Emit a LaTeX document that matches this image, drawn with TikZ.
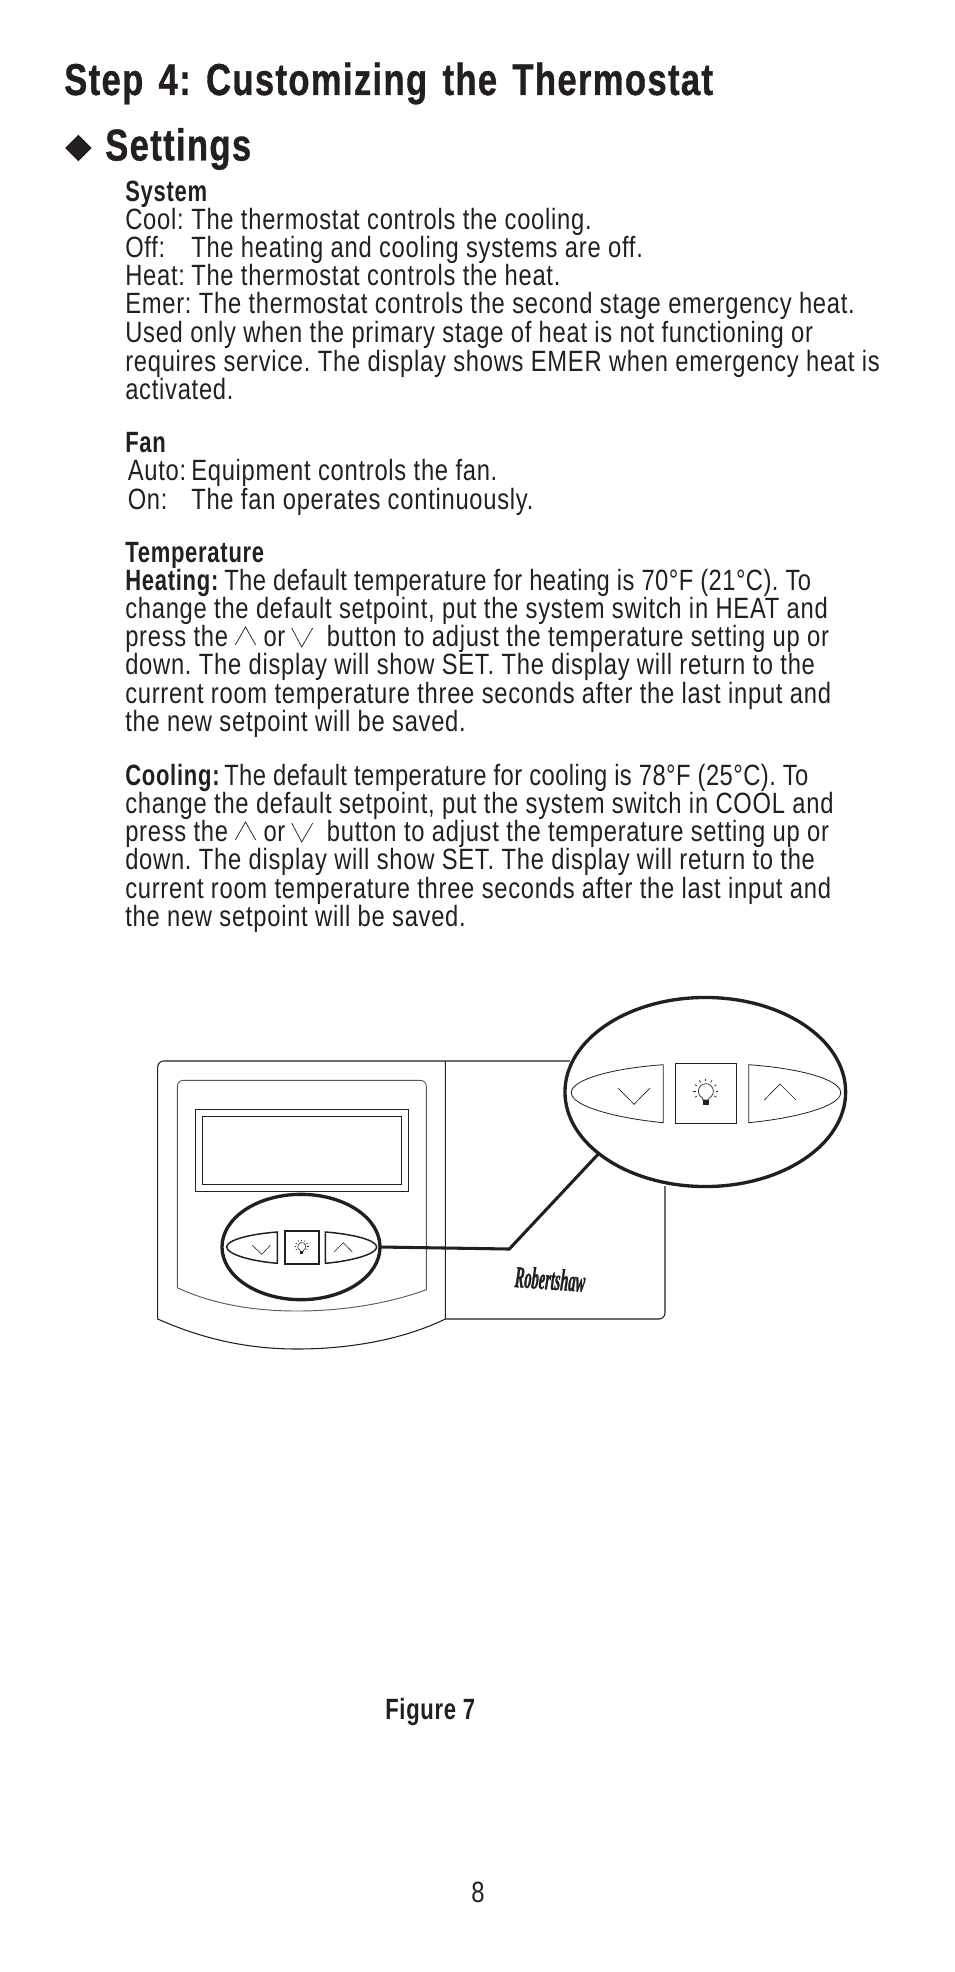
\documentclass[tikz,border=0pt]{standalone}
\usepackage{fontspec}
\setmainfont{Liberation Sans}[FakeStretch=0.81,LetterSpace=2.5,BoldFeatures={FakeStretch=0.75}]
\newfontfamily\headfont{Liberation Sans}[FakeStretch=0.775,LetterSpace=3,WordSpace=1.4,FakeBold=0.8]
\newfontfamily\logofont{Liberation Serif}[FakeStretch=0.47,FakeBold=0.8]
\usetikzlibrary{shapes.geometric}
\definecolor{inkdark}{HTML}{231F20}
\definecolor{inkgrey}{HTML}{58595B}
\tikzset{
    bulb/.pic={
        \draw (-3,8) -- (-3,6) arc[start angle=115, end angle=425, radius=7.5] -- (3,8) -- cycle;
        \fill (-3,8) rectangle (3,13);
        \foreach \a in {-210,-180,...,30}
            \draw ([shift={(0,-1)}]\a:10) -- ([shift={(0,-1)}]\a:12.5);
    }
}
\begin{document}
\begin{tikzpicture}[x=0.75pt, y=-0.75pt, color=inkdark, text=inkdark]
\useasboundingbox (0,0) rectangle (954,1972);
\frenchspacing

\begin{scope}[every node/.style={anchor=base west, inner sep=0pt, font=\headfont\bfseries\fontsize{33.5}{40}\selectfont}]
    \node (title) at (64,95) {Step 4: Customizing the Thermostat};
    \node (settings) at (105,160.5) {Settings};
\end{scope}
\node[diamond, fill=inkdark, minimum size=20pt, inner sep=0pt] (bullet) at (78.3,148) {};

\begin{scope}[every node/.style={anchor=base west, inner sep=0pt, font=\fontsize{22}{28}\selectfont}]
    \node (system) at (125,201.5) {\textbf{System}};
    \node (cool) at (125,230) {Cool:};
    \node (cooltext) at (191,230) {The thermostat controls the cooling.};
    \node (off) at (125,258) {Off:};
    \node (offtext) at (191,258) {The heating and cooling systems are off.};
    \node (heat) at (125,286) {Heat:};
    \node (heattext) at (191,286) {The thermostat controls the heat.};
    \node (emer0) at (125,314) {Emer: The thermostat controls the second stage emergency heat.};
    \node (emer1) at (125,342) {Used only when the primary stage of heat is not functioning or};
    \node (emer2) at (125,371) {requires service. The display shows EMER when emergency heat is};
    \node (emer3) at (125,399) {activated.};

    \node (fan) at (125,452) {\textbf{Fan}};
    \node (auto) at (127.5,480) {Auto:};
    \node (autotext) at (191,480) {Equipment controls the fan.};
    \node (on) at (127.5,509) {On:};
    \node (ontext) at (191,509) {The fan operates continuously.};

    \node (temp) at (125,562) {\textbf{Temperature}};
    \node (heat0a) at (125,590) {\textbf{Heating:}};
    \node (heat0b) at (224,590) {\addfontfeature{LetterSpace=1.5}The default temperature for heating is 70°F (21°C). To};
    \node (heat1) at (125,618) {change the default setpoint, put the system switch in HEAT and};
    \node (heat2a) at (125,646) {press the};
    \node (heat2b) at (263.3,646) {or};
    \node (heat2c) at (326.7,646) {button to adjust the temperature setting up or};
    \node (heat3) at (125,674) {down. The display will show SET. The display will return to the};
    \node (heat4) at (125,703) {current room temperature three seconds after the last input and};
    \node (heat5) at (125,731) {the new setpoint will be saved.};

    \node (cold0a) at (125,785) {\textbf{Cooling:}};
    \node (cold0b) at (224,785) {\addfontfeature{LetterSpace=1.5}The default temperature for cooling is 78°F (25°C). To};
    \node (cold1) at (125,813) {change the default setpoint, put the system switch in COOL and};
    \node (cold2a) at (125,841) {press the};
    \node (cold2b) at (263.3,841) {or};
    \node (cold2c) at (326.7,841) {button to adjust the temperature setting up or};
    \node (cold3) at (125,869) {down. The display will show SET. The display will return to the};
    \node (cold4) at (125,898) {current room temperature three seconds after the last input and};
    \node (cold5) at (125,926) {the new setpoint will be saved.};

    \node (figure) at (385,1719) {\textbf{Figure 7}};
    \node (page) at (471,1902) {8};
\end{scope}

\begin{scope}[line width=0.55pt]
    \draw (235.3,645) -- (245.5,627) -- (255.7,645);
    \draw (291.7,628) -- (301.7,647) -- (312.7,628);
    \draw (235.3,840) -- (245.5,822) -- (255.7,840);
    \draw (291.7,823) -- (301.7,842) -- (312.7,823);
\end{scope}

\begin{scope}[line width=0.8pt]
    \draw (570,1061) [rounded corners=4.5pt] -- (157.7,1061) [sharp corners] -- (157.7,1319)
        .. controls (205,1340) and (250,1349) .. (297,1349)
        .. controls (345,1349) and (400,1341) .. (445.3,1319);
    \draw (445.3,1061) -- (445.3,1319) -- (600,1319) [rounded corners=4.5pt] -- (665,1319) [sharp corners] -- (665,1186);
    \draw (195.3,1109.3) rectangle (408.3,1191.3);
    \draw (202.3,1116.3) rectangle (401.7,1184.3);
\end{scope}
\draw[line width=0.7pt, inkgrey] (177.3,1287.7) [rounded corners=4.5pt] -- (177.3,1080.3) -- (426.3,1080.3) [sharp corners] -- (426.3,1289.7)
    .. controls (390,1303) and (345,1311) .. (297,1311)
    .. controls (250,1311) and (210,1303) .. (177.3,1287.7);

\node[ellipse, draw, fill=white, line width=2.5pt, inner sep=0pt, outer sep=0pt, minimum width=118.5pt, minimum height=79pt] (lenssmall) at (301,1247) {};
\node[ellipse, draw, fill=white, line width=2.5pt, inner sep=0pt, outer sep=0pt, minimum width=210.5pt, minimum height=141.8pt] (lensbig) at (705.3,1092) {};
\coordinate (bend) at (509.3,1249);
\draw[line width=2.3pt, line join=miter] (lenssmall.east) -- (bend) -- (lensbig.210);

\begin{scope}[line width=1.1pt]
    \draw (277.3,1232) .. controls (250,1234) and (226.7,1240) .. (226.7,1247) .. controls (226.7,1254) and (250,1261) .. (277.3,1263.3) -- cycle;
    \draw[line width=1.6pt] (284.7,1231) rectangle (318.7,1264);
    \draw (325.3,1232) .. controls (352,1234) and (376.7,1240) .. (376.7,1247) .. controls (376.7,1254) and (352,1261) .. (325.3,1263.3) -- cycle;
\end{scope}
\draw[line width=0.45pt] (252.3,1245.3) -- (261.7,1254.3) -- (270.3,1245.3);
\draw[line width=0.45pt] (334,1252) -- (343.3,1242.7) -- (352.3,1252);
\pic[scale=0.55, line width=0.4pt] at (301.7,1247) {bulb};

\begin{scope}[line width=0.6pt, double=white, double distance=0.7pt]
    \draw (663.3,1064.7) .. controls (615,1068) and (571.3,1079) .. (571.3,1092.7) .. controls (571.3,1106) and (615,1118) .. (663.3,1122.7) -- cycle;
    \draw (675,1063.3) rectangle (736.7,1123.7);
    \draw (748.7,1064.7) .. controls (797,1068) and (840.7,1079) .. (840.7,1092.7) .. controls (840.7,1106) and (797,1118) .. (748.7,1122.7) -- cycle;
\end{scope}
\draw[line width=0.5pt] (618,1088) -- (634,1104.3) -- (650,1088);
\draw[line width=0.5pt] (764.3,1100) -- (780,1084) -- (796,1100);
\pic[line width=0.5pt] at (705.7,1092) {bulb};

\node[anchor=base west, inner sep=0pt, rotate=-4, font=\logofont\bfseries\itshape\fontsize{23}{25}\selectfont] (logo) at (514,1287) {Robertshaw};

\end{tikzpicture}
\end{document}
